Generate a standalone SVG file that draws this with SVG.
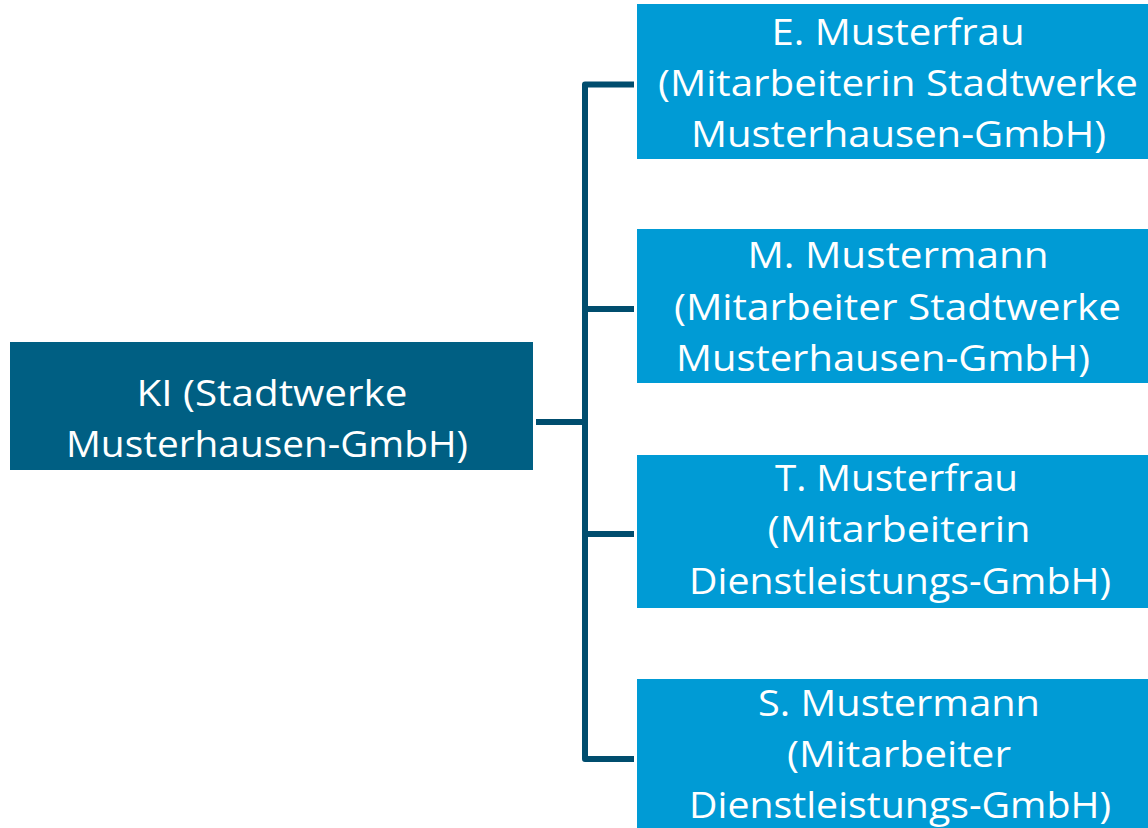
<svg xmlns="http://www.w3.org/2000/svg" width="1148" height="828" viewBox="0 0 1148 828">
<style>
.root{fill:#005F83}
.leaf{fill:#009BD5}
.t{font-family:"Open Sans","Noto Sans",sans-serif;font-size:37px;fill:#FFFFFF;text-anchor:middle}
.c{stroke:#004D6E;stroke-width:6;fill:none;stroke-linejoin:round}
</style>
<rect width="1148" height="828" fill="#FFFFFF"/>
<g id="connectors">
<path class="c" d="M536,422 H585"/>
<path class="c" d="M634,84.5 H585 V759 H634"/>
<path class="c" d="M585,309 H634"/>
<path class="c" d="M585,534 H634"/>
</g>
<g id="node-ki">
<rect class="root" x="10" y="342" width="523" height="128"/>
<text class="t" x="272" y="406" textLength="271" lengthAdjust="spacingAndGlyphs">KI (Stadtwerke</text>
<text class="t" x="267" y="457" textLength="402" lengthAdjust="spacingAndGlyphs">Musterhausen-GmbH)</text>
</g>
<g id="node-e-musterfrau">
<rect class="leaf" x="637" y="4" width="523" height="155"/>
<text class="t" x="898" y="45" textLength="253" lengthAdjust="spacingAndGlyphs">E. Musterfrau</text>
<text class="t" x="898" y="96" textLength="480" lengthAdjust="spacingAndGlyphs">(Mitarbeiterin Stadtwerke</text>
<text class="t" x="898.5" y="147" textLength="415" lengthAdjust="spacingAndGlyphs">Musterhausen-GmbH)</text>
</g>
<g id="node-m-mustermann">
<rect class="leaf" x="637" y="229" width="523" height="154"/>
<text class="t" x="898" y="268" textLength="301" lengthAdjust="spacingAndGlyphs">M. Mustermann</text>
<text class="t" x="897.5" y="320" textLength="447" lengthAdjust="spacingAndGlyphs">(Mitarbeiter Stadtwerke</text>
<text class="t" x="883" y="371" textLength="414" lengthAdjust="spacingAndGlyphs">Musterhausen-GmbH)</text>
</g>
<g id="node-t-musterfrau">
<rect class="leaf" x="637" y="455" width="523" height="153"/>
<text class="t" x="896.5" y="491" textLength="243" lengthAdjust="spacingAndGlyphs">T. Musterfrau</text>
<text class="t" x="899" y="542" textLength="263" lengthAdjust="spacingAndGlyphs">(Mitarbeiterin</text>
<text class="t" x="900" y="594" textLength="422" lengthAdjust="spacingAndGlyphs">Dienstleistungs-GmbH)</text>
</g>
<g id="node-s-mustermann">
<rect class="leaf" x="637" y="679" width="523" height="160"/>
<text class="t" x="899" y="716" textLength="282" lengthAdjust="spacingAndGlyphs">S. Mustermann</text>
<text class="t" x="899" y="767" textLength="224" lengthAdjust="spacingAndGlyphs">(Mitarbeiter</text>
<text class="t" x="900" y="818" textLength="422" lengthAdjust="spacingAndGlyphs">Dienstleistungs-GmbH)</text>
</g>
</svg>
